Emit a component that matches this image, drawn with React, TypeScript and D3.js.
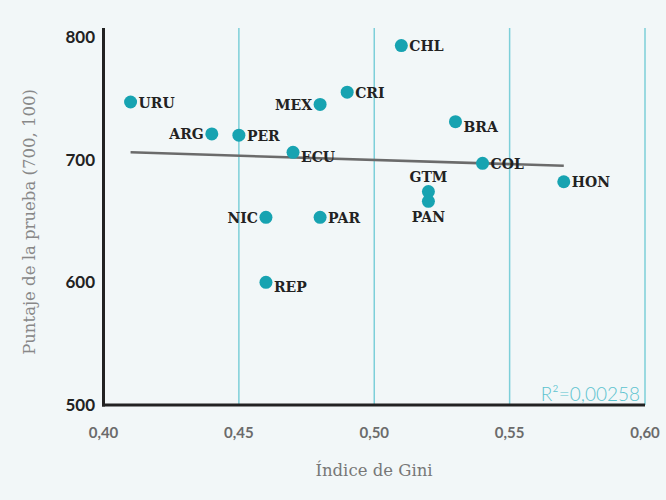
import React, { useEffect, useRef } from "react";
import * as d3 from "d3";

const codes = ["URU", "ARG", "PER", "MEX", "CRI", "CHL", "ECU", "BRA", "COL", "HON", "GTM", "PAN", "NIC", "PAR", "REP"];
const gini = [0.41, 0.44, 0.45, 0.48, 0.49, 0.51, 0.47, 0.53, 0.54, 0.57, 0.52, 0.52, 0.46, 0.48, 0.46];
const score = [747, 721, 720, 745, 755, 793, 706, 731, 697, 682, 674, 666, 653, 653, 600];
// where the label sits relative to its dot
const labelSide = ["r", "l", "r", "l", "r", "r", "rb", "rb", "r", "r", "t", "b", "l", "r", "rb"];
const trendX = [0.41, 0.57];
const trendY = [706, 695];
const xTicks = [0.4, 0.45, 0.5, 0.55, 0.6];
const yTicks = [500, 600, 700, 800];

const W = 666, H = 500;
const teal = "#17a3b1";

export default function App() {
  const ref = useRef<SVGSVGElement>(null);

  useEffect(() => {
    document.body.style.margin = "0";
    document.body.style.overflow = "hidden";
    const svg = d3.select(ref.current);
    svg.selectAll("*").remove();

    const x = d3.scaleLinear().domain([0.4, 0.6]).range([103.5, 645]);
    const y = d3.scaleLinear().domain([500, 800]).range([405, 37]);
    const fmt = (d: number) => d.toFixed(2).replace(".", ",");

    svg.append("rect").attr("width", W).attr("height", H).attr("fill", "#f2f7f8");

    // vertical grid
    svg.append("g")
      .selectAll("line")
      .data(xTicks.slice(1))
      .join("line")
      .attr("x1", d => x(d)).attr("x2", d => x(d))
      .attr("y1", 28).attr("y2", 405)
      .attr("stroke", "#7dcfd9").attr("stroke-width", 1.5);

    // axes
    svg.append("line").attr("x1", x(0.4)).attr("x2", x(0.4)).attr("y1", 28).attr("y2", 406.5)
      .attr("stroke", "#222").attr("stroke-width", 3);
    svg.append("line").attr("x1", x(0.4) - 1.5).attr("x2", x(0.6)).attr("y1", 405).attr("y2", 405)
      .attr("stroke", "#222").attr("stroke-width", 3);

    svg.append("g")
      .selectAll("text")
      .data(yTicks)
      .join("text")
      .attr("x", 95).attr("y", d => y(d))
      .attr("dy", "0.36em")
      .attr("text-anchor", "end")
      .attr("font-family", "Lato")
      .attr("font-weight", "bold")
      .attr("font-size", 17)
      .attr("fill", "#222")
      .text(d => d);

    svg.append("g")
      .selectAll("text")
      .data(xTicks)
      .join("text")
      .attr("x", d => x(d)).attr("y", 438)
      .attr("text-anchor", "middle")
      .attr("font-family", "Lato")
      .attr("font-weight", "bold")
      .attr("font-size", 15)
      .attr("fill", "#6b6b6b")
      .text(fmt);

    svg.append("text")
      .attr("x", 374).attr("y", 476)
      .attr("text-anchor", "middle")
      .attr("font-family", "DejaVu Serif")
      .attr("font-size", 16.5)
      .attr("fill", "#777")
      .text("Índice de Gini");

    svg.append("text")
      .attr("transform", "translate(35,222) rotate(-90)")
      .attr("text-anchor", "middle")
      .attr("font-family", "DejaVu Serif")
      .attr("font-size", 16.5)
      .attr("fill", "#888")
      .text("Puntaje de la prueba (700, 100)");

    svg.append("text")
      .attr("x", 640).attr("y", 401)
      .attr("text-anchor", "end")
      .attr("font-family", "Lato")
      .attr("font-weight", 300)
      .attr("font-size", 19)
      .attr("fill", "#5cc3cf")
      .text("R²=0,00258");

    // trend line
    const line = d3.line<number>().x(d => x(trendX[d])).y(d => y(trendY[d]));
    svg.append("path")
      .attr("d", line([0, 1]))
      .attr("stroke", "#6b6b6b").attr("stroke-width", 2.5).attr("fill", "none");

    const idx = d3.range(codes.length);
    svg.append("g")
      .selectAll("circle")
      .data(idx)
      .join("circle")
      .attr("cx", i => x(gini[i])).attr("cy", i => y(score[i]))
      .attr("r", 6.5)
      .attr("fill", teal);

    svg.append("g")
      .selectAll("text")
      .data(idx)
      .join("text")
      .attr("x", i => {
        const s = labelSide[i];
        if (s === "l") return x(gini[i]) - 8;
        if (s === "t" || s === "b") return x(gini[i]);
        return x(gini[i]) + 8;
      })
      .attr("y", i => {
        const s = labelSide[i];
        const cy = y(score[i]);
        if (s === "t") return cy - 10;
        if (s === "b") return cy + 21;
        if (s === "rb") return cy + 10;
        return cy + 5.5;
      })
      .attr("text-anchor", i => labelSide[i] === "l" ? "end" : (labelSide[i] === "t" || labelSide[i] === "b") ? "middle" : "start")
      .attr("font-family", "DejaVu Serif")
      .attr("font-weight", "bold")
      .attr("font-size", 14)
      .attr("fill", "#222")
      .text(i => codes[i]);
  }, []);

  return <svg ref={ref} width={W} height={H} style={{ display: "block", overflow: "visible" }} />;
}
